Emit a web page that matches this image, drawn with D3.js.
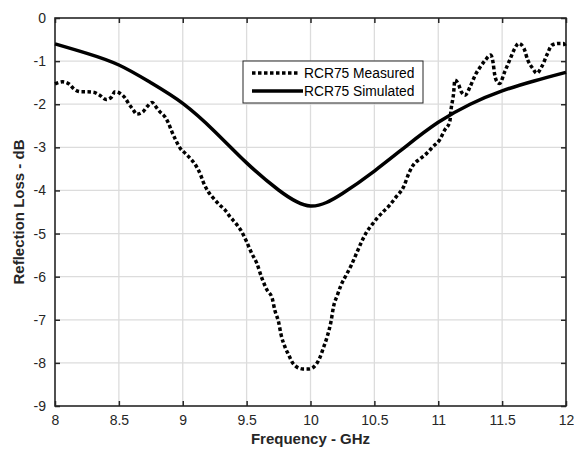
<!DOCTYPE html>
<html><head><meta charset="utf-8">
<script src="https://cdn.jsdelivr.net/npm/d3@7"></script>
<style>body{margin:0;background:#fff}svg{display:block}text{font-family:"Liberation Sans",Arial,sans-serif}</style>
</head><body><svg id="c" width="574" height="452"></svg>
<script>
const xTicks = [8, 8.5, 9, 9.5, 10, 10.5, 11, 11.5, 12];
const xTickLabels = ["8", "8.5", "9", "9.5", "10", "10.5", "11", "11.5", "12"];
const yTicks = [0, -1, -2, -3, -4, -5, -6, -7, -8, -9];
const yTickLabels = ["0", "-1", "-2", "-3", "-4", "-5", "-6", "-7", "-8", "-9"];
const seriesNames = ["RCR75 Measured", "RCR75 Simulated"];

const simFreq = [8, 8.25, 8.5, 8.75, 9, 9.25, 9.5, 9.75, 10, 10.25, 10.5, 10.75, 11, 11.25, 11.5, 11.75, 12];
const simVal = [-0.60, -0.82, -1.09, -1.50, -1.98, -2.63, -3.36, -3.99, -4.36, -4.07, -3.55, -2.97, -2.42, -2.00, -1.69, -1.46, -1.26];

const measFreq = [8.0, 8.06, 8.11, 8.15, 8.2, 8.25, 8.30, 8.35, 8.40, 8.44, 8.47, 8.51, 8.55, 8.58, 8.61, 8.64, 8.69, 8.72, 8.76, 8.79, 8.82, 8.86, 8.89, 8.91, 8.94, 8.98, 9.02, 9.06, 9.10, 9.14, 9.16, 9.20, 9.24, 9.29, 9.33, 9.37, 9.42, 9.46, 9.50, 9.54, 9.58, 9.62, 9.66, 9.70, 9.72, 9.75, 9.77, 9.80, 9.83, 9.86, 9.89, 9.94, 9.99, 10.04, 10.07, 10.10, 10.13, 10.16, 10.18, 10.21, 10.24, 10.28, 10.32, 10.36, 10.40, 10.44, 10.48, 10.52, 10.57, 10.62, 10.67, 10.73, 10.77, 10.80, 10.86, 10.91, 10.96, 11.01, 11.05, 11.09, 11.10, 11.12, 11.13, 11.16, 11.18, 11.21, 11.25, 11.29, 11.33, 11.37, 11.41, 11.43, 11.44, 11.46, 11.48, 11.52, 11.56, 11.60, 11.63, 11.67, 11.70, 11.74, 11.77, 11.81, 11.85, 11.89, 11.94, 11.98, 12.0];
const measVal = [-1.53, -1.48, -1.53, -1.65, -1.71, -1.71, -1.72, -1.79, -1.89, -1.84, -1.71, -1.75, -1.86, -2.0, -2.12, -2.23, -2.17, -2.06, -1.96, -2.06, -2.17, -2.29, -2.45, -2.60, -2.80, -3.02, -3.14, -3.26, -3.41, -3.64, -3.80, -4.03, -4.18, -4.34, -4.45, -4.61, -4.78, -4.95, -5.19, -5.46, -5.69, -6.04, -6.31, -6.50, -6.77, -7.05, -7.35, -7.63, -7.82, -8.0, -8.09, -8.14, -8.14, -8.05, -7.90, -7.66, -7.40, -7.05, -6.70, -6.43, -6.19, -5.96, -5.73, -5.46, -5.19, -4.96, -4.80, -4.65, -4.49, -4.34, -4.15, -3.91, -3.60, -3.43, -3.26, -3.14, -2.98, -2.83, -2.60, -2.41, -2.13, -1.75, -1.44, -1.55, -1.71, -1.79, -1.59, -1.32, -1.13, -0.97, -0.86, -1.05, -1.28, -1.48, -1.52, -1.25, -0.97, -0.70, -0.59, -0.70, -0.97, -1.17, -1.28, -1.13, -0.86, -0.63, -0.59, -0.59, -0.70];

const svg = d3.select("#c");
const L = 55, R = 566, T = 18, B = 406;
const x = d3.scaleLinear().domain([8, 12]).range([L, R]);
const y = d3.scaleLinear().domain([-9, 0]).range([B, T]);

// grid
const g = svg.append("g");
g.selectAll(".vg").data(xTicks.slice(1, -1)).enter().append("line")
  .attr("x1", d => x(d)).attr("x2", d => x(d)).attr("y1", T).attr("y2", B)
  .attr("stroke", "#dcdcdc").attr("stroke-width", 1.3);
g.selectAll(".hg").data(yTicks.slice(1, -1)).enter().append("line")
  .attr("y1", d => y(d)).attr("y2", d => y(d)).attr("x1", L).attr("x2", R)
  .attr("stroke", "#dcdcdc").attr("stroke-width", 1.3);

// axes
const ax = svg.append("g").attr("transform", `translate(0,${B})`)
  .call(d3.axisBottom(x).tickValues(xTicks).tickFormat((d, i) => xTickLabels[i]).tickSize(-5).tickPadding(9));
const axT = svg.append("g").attr("transform", `translate(0,${T})`)
  .call(d3.axisTop(x).tickValues(xTicks).tickFormat("").tickSize(-5));
const ay = svg.append("g").attr("transform", `translate(${L},0)`)
  .call(d3.axisLeft(y).tickValues(yTicks).tickFormat(d => yTickLabels[yTicks.indexOf(d)]).tickSize(-5).tickPadding(9));
const ayR = svg.append("g").attr("transform", `translate(${R},0)`)
  .call(d3.axisRight(y).tickValues(yTicks).tickFormat("").tickSize(-5));
[ax, axT, ay, ayR].forEach(a => {
  a.select(".domain").remove();
  a.selectAll(".tick line").attr("stroke", "#262626").attr("stroke-width", 1.5);
  a.selectAll(".tick text").attr("fill", "#262626").style("font-size", "14px").style("font-family", "'Liberation Sans',Arial,sans-serif");
});
svg.append("rect").attr("x", L).attr("y", T).attr("width", R - L).attr("height", B - T)
  .attr("fill", "none").attr("stroke", "#262626").attr("stroke-width", 1.6);

// lines
const simData = simFreq.map((f, i) => [f, simVal[i]]);
const measData = measFreq.map((f, i) => [f, measVal[i]]);
const lineC = d3.line().x(d => x(d[0])).y(d => y(d[1])).curve(d3.curveNatural);
const lineM = d3.line().x(d => x(d[0])).y(d => y(d[1])).curve(d3.curveMonotoneX);
svg.append("path").datum(simData).attr("d", lineC).attr("fill", "none")
  .attr("stroke", "#000").attr("stroke-width", 3.5);
svg.append("path").datum(measData).attr("d", lineM).attr("fill", "none")
  .attr("stroke", "#000").attr("stroke-width", 3.5).attr("stroke-dasharray", "3.5,2.5");

// legend
const lg = svg.append("g");
lg.append("rect").attr("x", 243).attr("y", 61).attr("width", 180).attr("height", 42)
  .attr("fill", "#fff").attr("stroke", "#262626").attr("stroke-width", 1);
lg.append("line").attr("x1", 252).attr("x2", 298).attr("y1", 73).attr("y2", 73)
  .attr("stroke", "#000").attr("stroke-width", 3.5).attr("stroke-dasharray", "3.5,2.5");
lg.append("line").attr("x1", 252).attr("x2", 303).attr("y1", 91).attr("y2", 91)
  .attr("stroke", "#000").attr("stroke-width", 3.5);
lg.selectAll("text").data(seriesNames).enter().append("text")
  .attr("x", 304).attr("y", (d, i) => 73 + i * 18).attr("dy", "0.35em")
  .style("font-size", "13.8px").attr("fill", "#000").text(d => d);

// axis titles
svg.append("text").attr("x", (L + R) / 2).attr("y", 444).attr("text-anchor", "middle")
  .style("font-size", "15px").style("font-weight", "bold").attr("fill", "#262626").text("Frequency - GHz");
svg.append("text").attr("transform", `translate(24,${(T + B) / 2}) rotate(-90)`).attr("text-anchor", "middle")
  .style("font-size", "15px").style("font-weight", "bold").attr("fill", "#262626").text("Reflection Loss - dB");
</script></body></html>
